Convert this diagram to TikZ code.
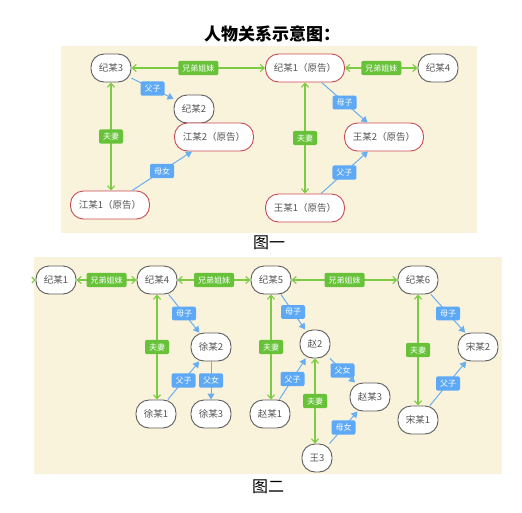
\documentclass[tikz,border=0pt]{standalone}
\usepackage{fontspec}
\setmainfont{Noto Sans CJK SC}
\usetikzlibrary{arrows.meta}
\definecolor{bgc}{HTML}{FAF3DC}
\definecolor{gline}{HTML}{7CCB45}
\definecolor{gbox}{HTML}{67C23A}
\definecolor{bline}{HTML}{6AAEF2}
\definecolor{bbox}{HTML}{5DA9F6}
\definecolor{redb}{HTML}{C84B55}
\definecolor{grayb}{HTML}{5C5C5C}
\definecolor{txt}{HTML}{555555}
\tikzset{
  person/.style={draw=grayb, line width=0.9pt, fill=white, rounded corners=13pt,
    minimum height=28pt, minimum width=40pt, inner xsep=5pt, inner ysep=2pt,
    text=txt, font=\fontsize{9.5}{11}\selectfont},
  plaintiff/.style={person, draw=redb, minimum width=79pt},
  tiny/.style={person, minimum width=30pt},
  glab/.style={fill=gbox, text=white, rounded corners=2pt, inner xsep=4pt,
    inner ysep=3.5pt, font=\fontsize{8}{9}\selectfont},
  blab/.style={fill=bbox, text=white, rounded corners=2pt, inner xsep=4pt,
    inner ysep=3.5pt, font=\fontsize{8}{9}\selectfont},
  gedge/.style={draw=gline, line width=1.1pt,
    {Straight Barb[length=4pt,width=7pt]}-{Straight Barb[length=4pt,width=7pt]}},
  gone/.style={draw=gline, line width=1.1pt, -{Straight Barb[length=3pt,width=6pt]}},
  bedge/.style={draw=bline, line width=1pt, -{Triangle[length=6pt,width=7pt]}},
  figcap/.style={font=\fontsize{16}{18}\selectfont, text=black},
}
\begin{document}
\begin{tikzpicture}[x=1pt,y=-1pt]
\useasboundingbox (0,0) rectangle (522,512);
\fill[white] (0,0) rectangle (522,512);
% title
\node[font=\fontsize{17}{20}\selectfont\bfseries] (title) at (272,34) {人物关系示意图：};
% panel backgrounds
\fill[bgc] (61,46) rectangle (477,233);
\fill[bgc] (34,257) rectangle (502,474);
\node[figcap] (cap1) at (269,243) {图一};
\node[figcap] (cap2) at (268,487) {图二};

% ---------- panel 1 ----------
\node[person] (aj3) at (111,68) {纪某3};
\node[plaintiff] (aj1) at (305,68) {纪某1（原告）};
\node[person] (aj4) at (438,68) {纪某4};
\node[person] (aj2) at (194,109) {纪某2};
\node[plaintiff] (ajiang2) at (214,137) {江某2（原告）};
\node[plaintiff] (awang2) at (384,137) {王某2（原告）};
\node[plaintiff] (ajiang1) at (110,205) {江某1（原告）};
\node[plaintiff] (awang1) at (305,208) {王某1（原告）};

\draw[gedge] (aj3) -- node[glab]{兄弟姐妹} (aj1);
\draw[gedge] (aj1) -- node[glab]{兄弟姐妹} (aj4);
\draw[gedge] (aj3.south) -- node[glab]{夫妻} (aj3.south |- ajiang1.north);
\draw[gedge] (aj1) -- node[glab]{夫妻} (awang1);
\draw[bedge] (aj3) -- node[blab]{父子} (aj2);
\draw[bedge] (aj1) -- node[blab]{母子} (awang2);
\draw[bedge] (ajiang1) -- node[blab]{母女} (ajiang2);
\draw[bedge] (awang1) -- node[blab]{父子} (awang2);

% ---------- panel 2 ----------
\node[person] (bj1) at (56,280) {纪某1};
\node[person] (bj4) at (157,280) {纪某4};
\node[person] (bj5) at (271,280) {纪某5};
\node[person] (bj6) at (418,280) {纪某6};
\node[person] (bxu2) at (211,347) {徐某2};
\node[person] (bxu1) at (156,414) {徐某1};
\node[person] (bxu3) at (211,414) {徐某3};
\node[person] (bzhao1) at (270,414) {赵某1};
\node[tiny] (bzhao2) at (315,344) {赵2};
\node[person] (bzhao3) at (370,397) {赵某3};
\node[tiny] (bwang3) at (317,458) {王3};
\node[person] (bsong2) at (478,347) {宋某2};
\node[person] (bsong1) at (418,420) {宋某1};
\coordinate (stub) at (34,280);

\draw[gone] (stub) -- (bj1);
\draw[gedge] (bj1) -- node[glab]{兄弟姐妹} (bj4);
\draw[gedge] (bj4) -- node[glab]{兄弟姐妹} (bj5);
\draw[gedge] (bj5) -- node[glab]{兄弟姐妹} (bj6);
\draw[gedge] (bj4.south) -- node[glab]{夫妻} (bj4.south |- bxu1.north);
\draw[gedge] (bj5.south) -- node[glab]{夫妻} (bj5.south |- bzhao1.north);
\draw[gedge] (bzhao2.south) -- node[glab]{夫妻} (bzhao2.south |- bwang3.north);
\draw[gedge] (bj6) -- node[glab]{夫妻} (bsong1);
\draw[bedge] (bj4) -- node[blab]{母子} (bxu2);
\draw[bedge] (bxu1) -- node[blab]{父子} (bxu2);
\draw[bedge] (bxu2) -- node[blab]{父女} (bxu3);
\draw[bedge] (bj5) -- node[blab]{母子} (bzhao2);
\draw[bedge] (bzhao1) -- node[blab]{父子} (bzhao2);
\draw[bedge] (bzhao2) -- node[blab]{父女} (bzhao3);
\draw[bedge] (bwang3) -- node[blab]{母女} (bzhao3);
\draw[bedge] (bj6) -- node[blab]{母子} (bsong2);
\draw[bedge] (bsong1) -- node[blab]{父子} (bsong2);
\end{tikzpicture}
\end{document}
